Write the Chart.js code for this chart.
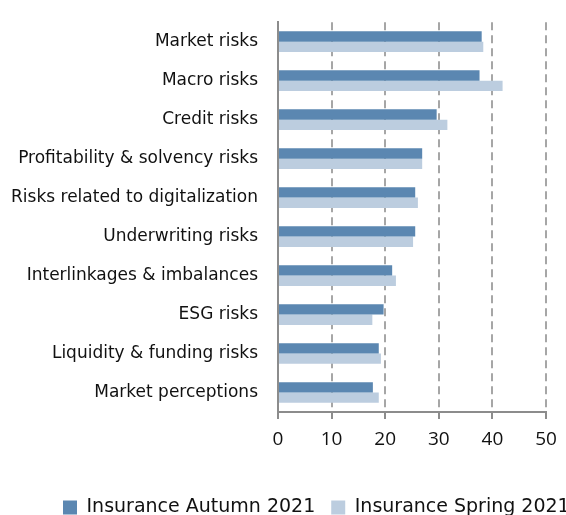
<!DOCTYPE html>
<html>
<head>
<meta charset="utf-8">
<script src="https://cdn.jsdelivr.net/npm/chart.js@4"></script>
<style>
html,body{margin:0;padding:0;background:#fff;overflow:hidden;}
#wrap{width:566px;height:515px;position:relative;}
</style>
</head>
<body>
<div id="wrap"><canvas id="c" width="566" height="515"></canvas></div>
<script>
const categories = [
  "Market risks",
  "Macro risks",
  "Credit risks",
  "Profitability & solvency risks",
  "Risks related to digitalization",
  "Underwriting risks",
  "Interlinkages & imbalances",
  "ESG risks",
  "Liquidity & funding risks",
  "Market perceptions"
];
const autumn2021 = [38.0, 37.6, 29.6, 26.9, 25.6, 25.6, 21.3, 19.7, 18.8, 17.7];
const spring2021 = [38.3, 41.9, 31.6, 26.9, 26.1, 25.2, 22.0, 17.6, 19.2, 18.8];
const seriesNames = ["Insurance Autumn 2021", "Insurance Spring 2021"];
const xTicks = [0, 10, 20, 30, 40, 50];

const LABEL_FONT = "'DejaVu Sans', sans-serif";
const TICK_FONT = "'Open Sans', 'DejaVu Sans', sans-serif";

const legendShift = {
  id: 'legendShift',
  afterLayout(chart) {
    const lg = chart.legend;
    if (!lg) return;
    const pad = lg.options.labels.padding;
    const w = lg.right - lg.left;
    lg.left = 63 - pad;
    lg.right = lg.left + w + 40;
    lg.top += 12;
    lg.bottom += 12;
  }
};

new Chart(document.getElementById('c'), {
  type: 'bar',
  data: {
    labels: categories,
    datasets: [
      { label: seriesNames[0], data: autumn2021, backgroundColor: '#5b87b1', barPercentage: 1, categoryPercentage: 0.53 },
      { label: seriesNames[1], data: spring2021, backgroundColor: '#bccddf', barPercentage: 1, categoryPercentage: 0.53 }
    ]
  },
  plugins: [legendShift],
  options: {
    indexAxis: 'y',
    responsive: false,
    animation: false,
    layout: { padding: { top: 11, right: 0, bottom: 0, left: 0 } },
    plugins: {
      tooltip: { enabled: false },
      legend: {
        position: 'bottom',
        align: 'start',
        labels: {
          font: { family: LABEL_FONT, size: 19 },
          color: '#111',
          boxWidth: 14,
          boxHeight: 14,
          padding: 16
        }
      }
    },
    scales: {
      x: {
        min: 0, max: 50,
        afterBuildTicks: s => { s.ticks = xTicks.map(v => ({ value: v })); },
        afterFit: s => { s.height = 58; s.paddingRight = 20; s.paddingLeft = 0; },
        grid: {
          color: ctx => ctx.tick && ctx.tick.value === 0 ? 'rgba(0,0,0,0)' : '#a6a6a6',
          lineWidth: 2,
          drawTicks: true,
          tickLength: 7,
          tickColor: '#8c8c8c',
          tickWidth: 2,
          tickBorderDash: []
        },
        border: { display: true, color: '#8c8c8c', width: 2, dash: [8, 5] },
        ticks: { font: { family: TICK_FONT, size: 19 }, color: '#111', padding: 9 }
      },
      y: {
        afterFit: s => { s.width = 278; },
        grid: { display: false },
        border: { display: true, color: '#8c8c8c', width: 2 },
        ticks: { font: { family: LABEL_FONT, size: 17 }, color: '#111', padding: 12 }
      }
    }
  }
});
</script>
</body>
</html>
